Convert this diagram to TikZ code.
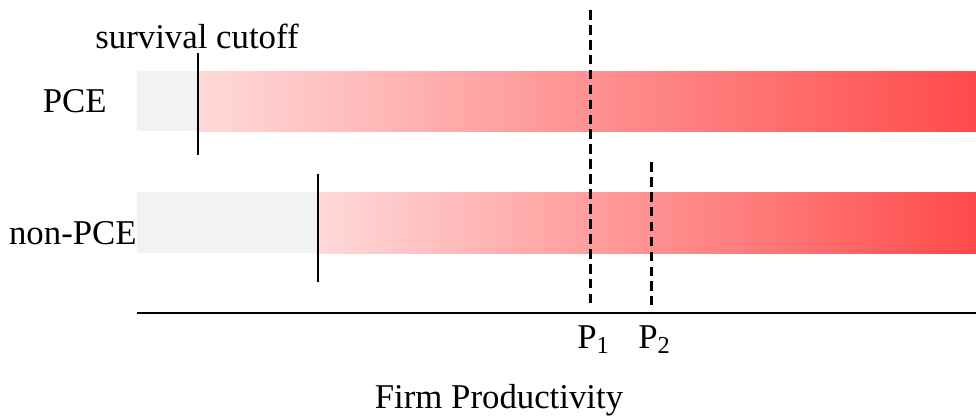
\documentclass[tikz,border=0pt]{standalone}
\usepackage{fontspec}
\setmainfont{Liberation Serif}
\usetikzlibrary{positioning}

\begin{document}
\begin{tikzpicture}[x=0.02cm, y=-0.02cm, font=\fontsize{19.8}{23}\selectfont,
    cutline/.style={line width=1.1pt},
    pline/.style={line width=1.7pt, dash pattern=on 5.5pt off 3pt},
    barfill/.style={left color=red!15, middle color=red!47, right color=red!71},
    lbl/.style={inner sep=0pt, anchor=east}]
  \useasboundingbox (0,0) rectangle (976,417);

  % Bars
  \fill[black!5] (137,71) rectangle (198,131);
  \shade[barfill] (198,71) rectangle (976,131);
  \fill[black!5] (137,192) rectangle (318,253);
  \shade[barfill] (318,192) rectangle (976,253);

  % Coordinates
  \coordinate (cutA) at (198,53);
  \coordinate (cutAe) at (198,155);
  \coordinate (cutB) at (318,174);
  \coordinate (cutBe) at (318,282);
  \coordinate (axL) at (137,313);
  \coordinate (axR) at (976,313);
  \coordinate (pa) at (590,10);
  \coordinate (pae) at (590,305);
  \coordinate (pb) at (651,162);
  \coordinate (pbe) at (651,305);

  % Lines
  \draw[cutline] (cutA) -- (cutAe);
  \draw[cutline] (cutB) -- (cutBe);
  \draw[pline] (pa) -- (pae);
  \draw[pline] (pb) -- (pbe);
  \draw[line width=1.1pt] (axL) -- (axR);

  % Labels
  \node[lbl] (pce) at (107,101) {PCE};
  \node[lbl] (npce) at (137,233) {non-PCE};
  \node (cutoff) at (197,36) {survival cutoff};
  \node[below=8pt of pae, xshift=2pt] (plabA) {P\textsubscript{1}};
  \node[below=8pt of pbe, xshift=2pt] (plabB) {P\textsubscript{2}};
  \node (xlab) at (499,400) {Firm Productivity};
\end{tikzpicture}
\end{document}
